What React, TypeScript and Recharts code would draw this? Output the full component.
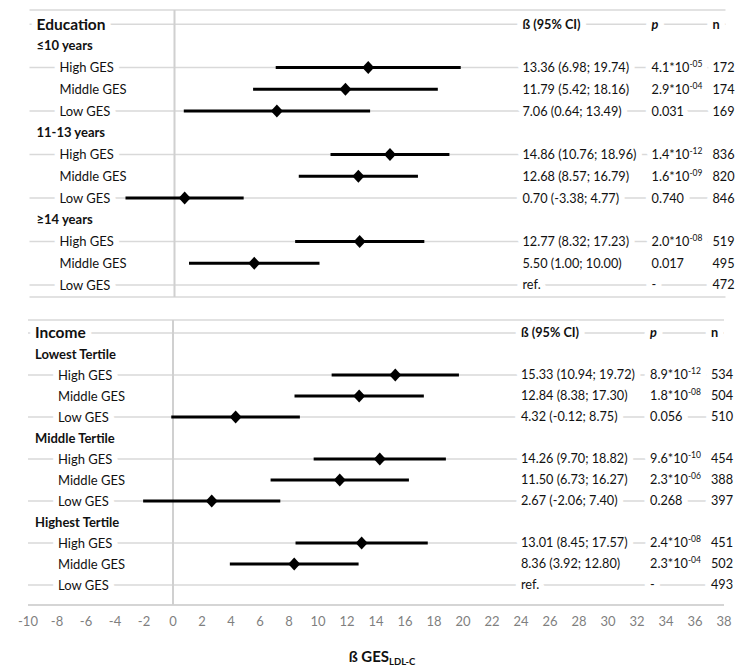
import React from "react";
import {
  ScatterChart,
  Scatter,
  XAxis,
  YAxis,
  CartesianGrid,
  ReferenceLine,
  ErrorBar,
} from "recharts";

const FONT = "Lato, 'Open Sans', sans-serif";
const INK = "#111";

const xTicks = [-10, -8, -6, -4, -2, 0, 2, 4, 6, 8, 10, 12, 14, 16, 18, 20, 22, 24, 26, 28, 30, 32, 34, 36, 38];
const rowKinds = ["title", "group", "item", "item", "item", "group", "item", "item", "item", "group", "item", "item", "item"];
const tableHeads = ["ß (95% CI)", "p", "n"];

// education panel
const eduLabels = ["Education", "≤10 years", "High GES", "Middle GES", "Low GES", "11-13 years", "High GES", "Middle GES", "Low GES", "≥14 years", "High GES", "Middle GES", "Low GES"];
const eduBeta = [null, null, 13.36, 11.79, 7.06, null, 14.86, 12.68, 0.7, null, 12.77, 5.5, null];
const eduLow = [null, null, 6.98, 5.42, 0.64, null, 10.76, 8.57, -3.38, null, 8.32, 1.0, null];
const eduHigh = [null, null, 19.74, 18.16, 13.49, null, 18.96, 16.79, 4.77, null, 17.23, 10.0, null];
const eduP = [null, null, "4.1*10^-05", "2.9*10^-04", "0.031", null, "1.4*10^-12", "1.6*10^-09", "0.740", null, "2.0*10^-08", "0.017", "-"];
const eduN = [null, null, 172, 174, 169, null, 836, 820, 846, null, 519, 495, 472];

// income panel
const incLabels = ["Income", "Lowest Tertile", "High GES", "Middle GES", "Low GES", "Middle Tertile", "High GES", "Middle GES", "Low GES", "Highest Tertile", "High GES", "Middle GES", "Low GES"];
const incBeta = [null, null, 15.33, 12.84, 4.32, null, 14.26, 11.5, 2.67, null, 13.01, 8.36, null];
const incLow = [null, null, 10.94, 8.38, -0.12, null, 9.7, 6.73, -2.06, null, 8.45, 3.92, null];
const incHigh = [null, null, 19.72, 17.3, 8.75, null, 18.82, 16.27, 7.4, null, 17.57, 12.8, null];
const incP = [null, null, "8.9*10^-12", "1.8*10^-08", "0.056", null, "9.6*10^-10", "2.3*10^-06", "0.268", null, "2.4*10^-08", "2.3*10^-04", "-"];
const incN = [null, null, 534, 504, 510, null, 454, 388, 397, null, 451, 502, 493];

const COL_BETA = 24;
const COL_P = 32.9;
const COL_N = 37.1;
const rowTicks = rowKinds.map((_, i) => i);

const halo = {
  stroke: "#fff",
  strokeWidth: 12,
  strokeLinejoin: "round" as const,
  paintOrder: "stroke" as const,
};

function RowLabel(props: any) {
  const { cx, cy, payload } = props;
  const kind = payload.kind;
  const size = kind === "title" ? 15.5 : 13;
  return (
    <text
      x={cx + (kind === "item" ? 30 : 7)}
      y={cy}
      dy="0.35em"
      fontFamily={FONT}
      fontSize={size}
      fontWeight={kind === "item" ? 400 : 700}
      fill={INK}
      {...halo}
    >
      {payload.text}
    </text>
  );
}

function CellText(props: any) {
  const { cx, cy, payload } = props;
  const parts = String(payload.text).split("^");
  const body = (
    <>
      <tspan>{parts[0]}</tspan>
      {parts[1] && (
        <tspan dy={-5} fontSize={8.5}>
          {parts[1]}
        </tspan>
      )}
    </>
  );
  const common = {
    x: cx,
    y: cy,
    dy: "0.35em",
    fontFamily: FONT,
    fontSize: 12.7,
    fontWeight: payload.head ? 700 : 400,
    fontStyle: payload.italic ? "italic" : "normal",
  };
  return (
    <g>
      <text {...common} fill="#fff" stroke="#fff" strokeWidth={12} strokeLinejoin="round">
        {body}
      </text>
      <text {...common} fill={INK}>
        {body}
      </text>
    </g>
  );
}

function Diamond(props: any) {
  const { cx, cy } = props;
  return (
    <polygon
      points={`${cx},${cy - 6.5} ${cx + 6},${cy} ${cx},${cy + 6.5} ${cx - 6},${cy}`}
      fill="#000"
    />
  );
}

function AxisTitle(props: any) {
  const { viewBox } = props;
  return (
    <text
      x={viewBox.x + viewBox.width / 2 + 6}
      y={viewBox.y + 57}
      textAnchor="middle"
      fontFamily={FONT}
      fontSize={15}
      fontWeight={700}
      fill={INK}
    >
      <tspan>ß GES</tspan>
      <tspan dy={3} fontSize={9.5}>
        LDL-C
      </tspan>
    </text>
  );
}

type PanelProps = {
  labels: string[];
  beta: (number | null)[];
  low: (number | null)[];
  high: (number | null)[];
  p: (string | null)[];
  n: (number | null)[];
  height: number;
  margin: { top: number; right: number; bottom: number; left: number };
  domain: [number, number];
  showAxis: boolean;
};

function Panel({ labels, beta, low, high, p, n, height, margin, domain, showAxis }: PanelProps) {
  const labelPts = labels.map((text, i) => ({ x: -10, y: i, text, kind: rowKinds[i] }));

  const ciPts = beta
    .map((b, i) => (b === null ? null : { x: b, y: i, err: [b - (low[i] as number), (high[i] as number) - b] }))
    .filter(Boolean);

  const betaPts: any[] = [{ x: COL_BETA, y: 0, text: tableHeads[0], head: true }];
  const pPts: any[] = [{ x: COL_P, y: 0, text: tableHeads[1], head: true, italic: true }];
  const nPts: any[] = [{ x: COL_N, y: 0, text: tableHeads[2], head: true }];
  labels.forEach((_, i) => {
    if (n[i] === null) return;
    const b = beta[i];
    betaPts.push({
      x: COL_BETA,
      y: i,
      text: b === null ? "ref." : `${b.toFixed(2)} (${(low[i] as number).toFixed(2)}; ${(high[i] as number).toFixed(2)})`,
    });
    pPts.push({ x: COL_P, y: i, text: p[i] });
    nPts.push({ x: COL_N, y: i, text: String(n[i]) });
  });

  return (
    <ScatterChart width={740} height={height} margin={margin}>
      <CartesianGrid vertical={false} stroke="#d9d9d9" strokeWidth={1.5} />
      <XAxis
        type="number"
        dataKey="x"
        domain={[-10, 38]}
        ticks={xTicks}
        interval={0}
        hide={!showAxis}
        height={50}
        tickLine={false}
        tickMargin={6}
        axisLine={{ stroke: "#d0d0d0", strokeWidth: 1.5 }}
        tick={{ fill: "#7f7f7f", fontSize: 13, fontFamily: FONT }}
        label={showAxis ? { content: (lp: any) => <AxisTitle {...lp} /> } : undefined}
      />
      <YAxis type="number" dataKey="y" domain={domain} ticks={rowTicks} reversed hide allowDataOverflow />
      <ReferenceLine x={0} stroke="#d0d0d0" strokeWidth={2} />
      <Scatter data={labelPts} shape={RowLabel} isAnimationActive={false} />
      <Scatter data={ciPts as any[]} shape={Diamond} isAnimationActive={false}>
        <ErrorBar dataKey="err" direction="x" width={0} stroke="#000" strokeWidth={3} isAnimationActive={false} />
      </Scatter>
      <Scatter data={betaPts} shape={CellText} isAnimationActive={false} />
      <Scatter data={pPts} shape={CellText} isAnimationActive={false} />
      <Scatter data={nPts} shape={CellText} isAnimationActive={false} />
    </ScatterChart>
  );
}

export default function App() {
  return (
    <div style={{ width: 740, background: "#fff" }}>
      <Panel
        labels={eduLabels}
        beta={eduBeta}
        low={eduLow}
        high={eduHigh}
        p={eduP}
        n={eduN}
        height={300}
        margin={{ top: 2, right: 22.5, bottom: 11, left: 21.5 }}
        domain={[-0.65, 12.55]}
        showAxis={false}
      />
      <Panel
        labels={incLabels}
        beta={incBeta}
        low={incLow}
        high={incHigh}
        p={incP}
        n={incN}
        height={360}
        margin={{ top: 12, right: 24, bottom: 13, left: 20 }}
        domain={[-0.62, 12.95]}
        showAxis={true}
      />
    </div>
  );
}
